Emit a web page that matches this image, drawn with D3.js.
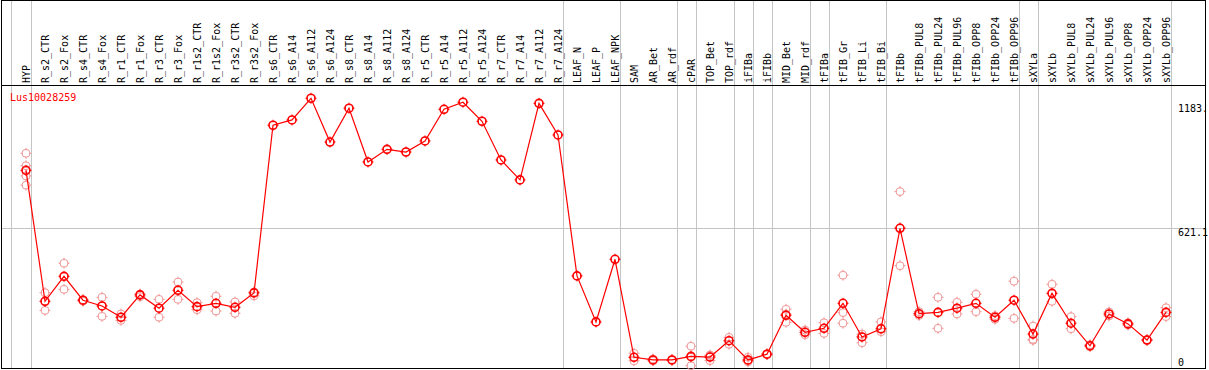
<!DOCTYPE html>
<html>
<head>
<meta charset="utf-8">
<script src="https://cdn.jsdelivr.net/npm/d3@7"></script>
<style>
  body { margin: 0; background: #fff; }
  svg text { font-family: "DejaVu Sans Mono", monospace; font-size: 10px; }
</style>
</head>
<body>
<script>
const width = 1209, height = 370;

const geneId = "Lus10028259";

const categories = ["HYP", "R_s2_CTR", "R_s2_Fox", "R_s4_CTR", "R_s4_Fox", "R_r1_CTR", "R_r1_Fox",
  "R_r3_CTR", "R_r3_Fox", "R_r1s2_CTR", "R_r1s2_Fox", "R_r3s2_CTR", "R_r3s2_Fox",
  "R_s6_CTR", "R_s6_A14", "R_s6_A112", "R_s6_A124", "R_s8_CTR", "R_s8_A14", "R_s8_A112", "R_s8_A124",
  "R_r5_CTR", "R_r5_A14", "R_r5_A112", "R_r5_A124", "R_r7_CTR", "R_r7_A14", "R_r7_A112", "R_r7_A124",
  "LEAF_N", "LEAF_P", "LEAF_NPK", "SAM", "AR_Bet", "AR_rdf", "cPAR", "TOP_Bet", "TOP_rdf",
  "iFIBa", "iFIBb", "MID_Bet", "MID_rdf", "tFIBa", "tFIB_Gr", "tFIB_Li", "tFIB_Bi", "tFIBb",
  "tFIBb_PUL8", "tFIBb_PUL24", "tFIBb_PUL96", "tFIBb_OPP8", "tFIBb_OPP24", "tFIBb_OPP96",
  "sXYLa", "sXYLb", "sXYLb_PUL8", "sXYLb_PUL24", "sXYLb_PUL96", "sXYLb_OPP8", "sXYLb_OPP24", "sXYLb_OPP96"];

// mean expression per sample
const means = [883, 291, 404, 296, 270, 219, 320, 260, 341, 267, 282, 264, 329,
  1087, 1111, 1209, 1011, 1164, 921, 978, 966,
  1016, 1159, 1191, 1105, 930, 840, 1186, 1043,
  406, 198, 481, 38, 26, 26, 42, 39, 113,
  26, 52, 228, 151, 169, 282, 130, 167, 621,
  235, 241, 260, 282, 219, 296,
  143, 327, 192, 90, 234, 189, 116, 241];

// individual replicates
const replicates = [[960, 904, 858, 816], [330, 250], [463, 345], [298, 292], [309, 223], [234, 205],
  [324, 312], [300, 219], [378, 300], [285, 253], [314, 247], [288, 237], [333, 316],
  [], [], [], [], [], [], [], [], [], [], [], [], [], [], [], [],
  [], [], [], [56, 22], [22, 30], [24, 28], [88, 0, 38], [48, 23, 46], [128, 97],
  [38, 18, 22], [50, 54], [255, 196, 233], [161, 140], [194, 146], [409, 240, 192], [143, 104], [198, 154], [787, 452, 624],
  [244, 234, 227], [309, 169], [287, 234], [323, 244], [226, 210], [382, 214],
  [179, 119, 115], [368, 291], [222, 167], [95, 86], [225, 243], [184, 194], [118, 114], [262, 222]];

const separatorsAfter = ["HYP", "R_r7_A124", "LEAF_NPK", "AR_rdf", "cPAR", "TOP_rdf", "iFIBa", "iFIBb",
  "MID_rdf", "tFIBa", "tFIB_Bi", "tFIBb_OPP96", "sXYLa", "sXYLb_OPP96"];

const yTicks = [0, 621.1, 1183];
const yTickLabels = ["0", "621.1", "1183."];

const svg = d3.select("body").append("svg")
  .attr("width", width)
  .attr("height", height);

const x = d3.scalePoint()
  .domain(categories)
  .range([26, 1166]);

const y = d3.scaleLinear()
  .domain([0, 1183])
  .range([365.7, 104]);

const step = x.step();

// grid
const grid = svg.append("g").attr("stroke", "#c4c4c4").attr("stroke-width", 1).attr("shape-rendering", "crispEdges");

grid.append("line")
  .attr("x1", x(categories[0]) - step + 4.5)
  .attr("x2", x(categories[0]) - step + 4.5)
  .attr("y1", 0).attr("y2", 368);

grid.selectAll("line.sep")
  .data(separatorsAfter)
  .enter().append("line")
  .attr("class", "sep")
  .attr("x1", d => Math.round(x(d) + 4.5) + 0.5)
  .attr("x2", d => Math.round(x(d) + 4.5) + 0.5)
  .attr("y1", 0).attr("y2", 368);

grid.selectAll("line.h")
  .data(yTicks.filter(t => t > 0 && t < 1000))
  .enter().append("line")
  .attr("class", "h")
  .attr("x1", 1).attr("x2", 1205)
  .attr("y1", d => Math.round(y(d)) + 0.5)
  .attr("y2", d => Math.round(y(d)) + 0.5);

// frame + header line
svg.append("rect")
  .attr("x", 1.5).attr("y", 0.5)
  .attr("width", 1204).attr("height", 368)
  .attr("fill", "none").attr("stroke", "#000");

svg.append("line")
  .attr("x1", 1).attr("x2", 1206)
  .attr("y1", 85.5).attr("y2", 85.5)
  .attr("stroke", "#000");

// column labels
svg.selectAll("text.col")
  .data(categories)
  .enter().append("text")
  .attr("class", "col")
  .attr("transform", d => `translate(${x(d) + 4},83)rotate(-90)`)
  .attr("fill", "#000")
  .text(d => d);

// y labels
svg.selectAll("text.ylab")
  .data(yTicks)
  .enter().append("text")
  .attr("class", "ylab")
  .attr("x", 1178)
  .attr("y", d => Math.min(y(d) + 8, 366))
  .attr("fill", "#000")
  .text((d, i) => yTickLabels[i]);

svg.append("text")
  .attr("x", 10)
  .attr("y", 101)
  .attr("fill", "#ff0000")
  .text(geneId);

// replicate circles
const repPts = [];
replicates.forEach((reps, i) => reps.forEach(v => repPts.push({ cat: categories[i], v: v })));

function marker(g, pts, color, r, sw) {
  const m = g.selectAll("g.m")
    .data(pts)
    .enter().append("g")
    .attr("class", "m")
    .attr("transform", d => `translate(${x(d.cat)},${y(d.v)})`);
  m.append("circle")
    .attr("r", r)
    .attr("fill", "none")
    .attr("stroke", color)
    .attr("stroke-width", sw);
  [[0, -1], [0, 1], [-1, 0], [1, 0]].forEach(([dx, dy]) => {
    m.append("line")
      .attr("x1", dx * (r - 1)).attr("y1", dy * (r - 1))
      .attr("x2", dx * (r + 1.5)).attr("y2", dy * (r + 1.5))
      .attr("stroke", color)
      .attr("stroke-width", 1);
  });
}

marker(svg.append("g"), repPts, "#f09a9a", 4, 1);

// mean line
const line = d3.line()
  .x((d, i) => x(categories[i]))
  .y(d => y(d));

svg.append("path")
  .datum(means)
  .attr("d", line)
  .attr("fill", "none")
  .attr("stroke", "#ff0000")
  .attr("stroke-width", 1.2);

marker(svg.append("g"), means.map((v, i) => ({ cat: categories[i], v: v })), "#ff0000", 4, 1.6);
</script>
</body>
</html>
